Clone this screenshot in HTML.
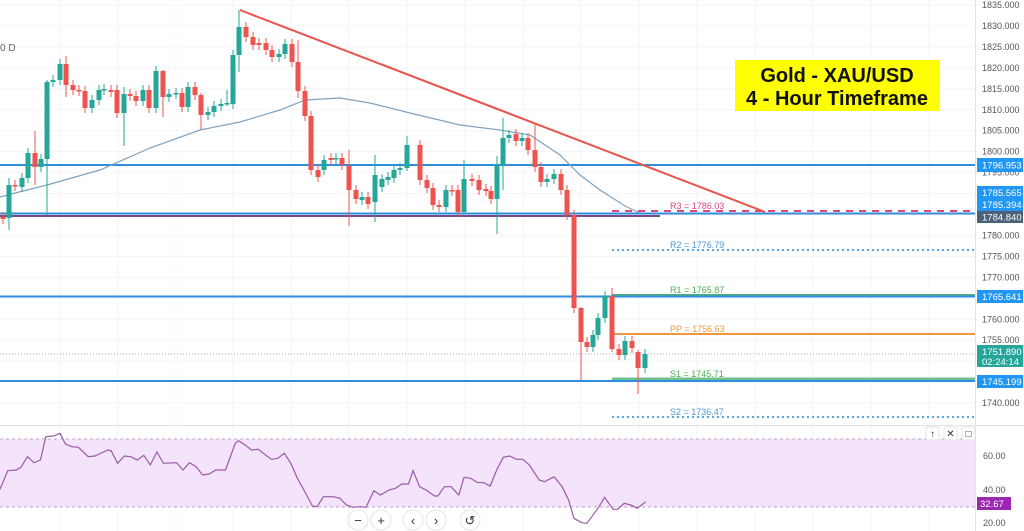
<!DOCTYPE html>
<html><head><meta charset="utf-8">
<style>
body{margin:0;background:#fff;width:1024px;height:531px;overflow:hidden;font-family:"Liberation Sans",sans-serif}
svg{display:block}
</style></head><body>
<svg id="s" width="1024" height="531" xmlns="http://www.w3.org/2000/svg" font-family="Liberation Sans, sans-serif">
<rect width="1024" height="531" fill="#fff"/>
<g id="grid" stroke="#f3f5f8" stroke-width="1"></g>
<rect x="0" y="439" width="975" height="68" fill="#f3e3fb"/>
<line x1="0" y1="439" x2="975" y2="439" stroke="#b9a7bf" stroke-dasharray="3,3"/>
<line x1="0" y1="507" x2="975" y2="507" stroke="#b9a7bf" stroke-dasharray="3,3"/>
<line x1="0" y1="425.5" x2="1024" y2="425.5" stroke="#e0e3eb"/>
<line x1="975.5" y1="0" x2="975.5" y2="531" stroke="#e0e3eb"/>
<g id="lines">
<line x1="0" y1="165" x2="975" y2="165" stroke="#2f8fdc" stroke-width="2"/>
<line x1="0" y1="216" x2="660" y2="216" stroke="#7a4a8c" stroke-width="2"/>
<line x1="0" y1="213.5" x2="975" y2="213.5" stroke="#2f8fdc" stroke-width="2"/>
<line x1="612" y1="211" x2="975" y2="211" stroke="#e0457f" stroke-width="2" stroke-dasharray="7,6"/>
<line x1="612" y1="250" x2="975" y2="250" stroke="#5aa7e0" stroke-width="2" stroke-dasharray="2,3"/>
<line x1="612" y1="295" x2="975" y2="295" stroke="#4caf7a" stroke-width="2"/>
<line x1="0" y1="296.5" x2="975" y2="296.5" stroke="#2f8fdc" stroke-width="2"/>
<line x1="612" y1="334" x2="975" y2="334" stroke="#f0973b" stroke-width="2"/>
<line x1="0" y1="354" x2="975" y2="354" stroke="#9fb3c2" stroke-width="1" stroke-dasharray="1,2"/>
<line x1="612" y1="379" x2="975" y2="379" stroke="#6fbf8f" stroke-width="3"/>
<line x1="0" y1="381" x2="975" y2="381" stroke="#2f8fdc" stroke-width="2"/>
<line x1="612" y1="417" x2="975" y2="417" stroke="#5aa7e0" stroke-width="2" stroke-dasharray="2,3"/>
</g>
<g font-size="9">
<text x="670" y="209" fill="#e0457f">R3 = 1786.03</text>
<text x="670" y="248" fill="#4a9ad8">R2 = 1776.79</text>
<text x="670" y="293" fill="#4caf50">R1 = 1765.87</text>
<text x="670" y="332" fill="#f0973b">PP = 1756.63</text>
<text x="670" y="377" fill="#4caf50">S1 = 1745.71</text>
<text x="670" y="415" fill="#4a9ad8">S2 = 1736.47</text>
</g>
<polyline fill="none" stroke="#7fa3c0" stroke-width="1.2" points="0,197 15,193 47,185 100,170 150,148 200,130 240,122 280,110 305,100 340,98 370,103 410,113 460,125 500,130 530,135 560,155 580,175 600,190 625,206 640,213"/>
<g id="candles"></g>
<line x1="240" y1="10" x2="765" y2="212" stroke="#e8544c" stroke-width="2"/>
<polyline id="rsi" fill="none" stroke="#9c5aa8" stroke-width="1.2" points=""/>
<text x="0" y="51" font-size="10" fill="#666">0 D</text>
<rect x="735" y="60" width="205" height="51" fill="#ffff00"/>
<text x="837" y="82" font-size="20" font-weight="bold" text-anchor="middle" fill="#111">Gold - XAU/USD</text>
<text x="837" y="105" font-size="20" font-weight="bold" text-anchor="middle" fill="#111">4 - Hour Timeframe</text>
<g id="axis" font-size="9" fill="#555"></g>
<g font-size="9.5" fill="#fff">
<rect x="977" y="158" width="46" height="14" fill="#2196f3"/><text x="982" y="168.5">1796.953</text>
<rect x="977" y="186" width="46" height="13" fill="#2196f3"/><text x="982" y="196">1785.565</text>
<rect x="977" y="199" width="46" height="12" fill="#2196f3"/><text x="982" y="208">1785.394</text>
<rect x="977" y="211" width="46" height="12" fill="#4a6178"/><text x="982" y="220.5">1784.840</text>
<rect x="977" y="290" width="46" height="13" fill="#2196f3"/><text x="982" y="300">1765.641</text>
<rect x="977" y="345" width="46" height="22" fill="#26a69a"/><text x="982" y="355">1751.890</text><text x="982" y="365">02:24:14</text>
<rect x="977" y="375" width="46" height="13" fill="#2196f3"/><text x="982" y="385">1745.199</text>
<rect x="977" y="497" width="34" height="13" fill="#9c27b0"/><text x="980" y="507">32.67</text>
</g>
<g font-size="9" fill="#555">
<text x="983" y="459">60.00</text><text x="983" y="493">40.00</text><text x="983" y="526">20.00</text>
</g>
<g fill="#fff" stroke="#e0e3eb">
<rect x="926" y="427" width="13" height="13" rx="2"/><rect x="944" y="427" width="13" height="13" rx="2"/><rect x="962" y="427" width="13" height="13" rx="2"/>
</g>
<g font-size="10" fill="#333" text-anchor="middle"><text x="932.5" y="437">↑</text><text x="950.5" y="437">✕</text><text x="968.5" y="437">□</text></g>
<g fill="#fff" stroke="#e4e4e4">
<circle cx="358" cy="520" r="10"/><circle cx="381" cy="520" r="10"/><circle cx="413" cy="520" r="10"/><circle cx="436" cy="520" r="10"/><circle cx="470" cy="520" r="10"/>
</g>
<g font-size="13" fill="#333" text-anchor="middle"><text x="358" y="525">−</text><text x="381" y="525">+</text><text x="413" y="525">‹</text><text x="436" y="525">›</text><text x="470" y="525">↺</text></g>
</svg>
<script>
var NS="http://www.w3.org/2000/svg";
function el(p,t,a){var e=document.createElementNS(NS,t);for(var k in a)e.setAttribute(k,a[k]);p.appendChild(e);return e;}
var g=document.getElementById('grid');
[60,118,176,233,291,349,407,465,523,581,639,697,755,813,871,929].forEach(function(x){el(g,'line',{x1:x,y1:0,x2:x,y2:531});});
for(var i=0;i<20;i++){var y=5+i*20.95;el(g,'line',{x1:0,y1:y,x2:975,y2:y});}
var ax=document.getElementById('axis');
for(var i=0;i<20;i++){var p=1835-5*i,y=5+i*20.95;if(y>410)break;var t=el(ax,'text',{x:982,y:y+3});t.textContent=p.toFixed(3);}
var C=[[3,217,219],[9,218,185,178,230],[15,185,186],[22,187,178],[28,178,153],[35,153,167,131,185],[41,167,159],[47,159,82,80,215],[53,82,80],[60,80,64],[66,64,85,56,97],[73,85,90],[79,90,91],[85,91,108],[92,108,100],[99,100,90],[104,90,89],[111,90,92],[117,90,113],[124,113,94,87,146],[130,94,96],[136,96,101],[143,101,90],[149,90,108],[156,108,71],[163,71,97,70,117],[169,97,94],[176,94,93],[182,93,107],[188,107,87],[195,87,95],[201,95,115,93,130],[208,115,112],[214,112,106],[221,106,104],[227,104,103,90,106],[233,104,55],[239,55,27,10,72],[246,27,37],[253,37,45],[259,43,45],[266,43,50],[272,50,57],[279,57,54],[285,54,44],[292,44,62],[298,62,91,40,98],[305,91,116],[311,116,170],[318,170,177],[324,170,160],[331,158,160],[336,159,158],[342,158,165],[349,166,190,150,226],[356,190,199],[362,200,197],[368,197,204],[375,202,175,155,222],[382,187,179],[388,180,177],[394,178,170],[400,170,168],[407,168,145,136,171],[420,145,180],[427,180,188],[433,188,205],[439,205,207],[446,207,190],[452,190,191],[458,190,212],[464,212,179,160,214],[472,179,181],[479,180,190],[486,189,191],[491,191,199],[497,199,165,156,234],[503,165,138,118,190],[509,138,135],[516,134,141],[522,141,138],[528,138,150],[535,150,167,124,172],[541,167,182],[547,182,179],[554,179,174],[561,174,190],[567,190,215],[574,215,308],[581,308,342,307,380],[587,342,347],[593,347,335],[598,335,318],[605,318,296],[612,296,349,288,352],[619,349,355],[625,355,341],[632,341,348],[638,352,368,350,394],[645,368,354]];
var cg=document.getElementById('candles');
C.forEach(function(c){var x=c[0],o=c[1],cl=c[2];var up=cl<o;var col=up?'#26a69a':'#ef5350';var top=Math.min(o,cl),bot=Math.max(o,cl);var hi=c[3]!==undefined?c[3]:top-5,lo=c[4]!==undefined?c[4]:bot+5;
el(cg,'line',{x1:x,y1:hi,x2:x,y2:lo,stroke:col,'stroke-width':1});
el(cg,'rect',{x:x-2.5,y:top,width:5,height:Math.max(1.5,bot-top),fill:col});});
var R=[[0,208],[12,152],[25,150],[32,142],[42,110],[52,128],[62,120],[70,50],[82,48],[92,40],[100,72],[110,80],[120,82],[135,110],[145,108],[165,90],[170,92],[180,130],[190,108],[200,110],[210,120],[220,106],[230,135],[240,96],[250,130],[270,128],[280,150],[290,128],[300,140],[310,165],[320,162],[330,150],[345,150],[360,70],[365,62],[375,75],[385,90],[395,88],[415,118],[425,115],[435,100],[445,130],[455,175],[465,210],[478,258],[485,260],[495,230],[510,230],[520,235],[530,255],[540,262],[550,260],[560,262],[572,212],[582,225],[595,210],[605,205],[615,192],[625,192],[632,152],[642,200],[652,210],[665,228],[670,228],[680,200],[690,200],[702,225],[710,172],[720,175],[730,187],[740,188],[750,198],[760,150],[770,112],[780,108],[790,118],[800,118],[810,135],[825,180],[833,185],[848,170],[860,200],[870,240],[878,295],[890,308],[898,310],[915,265],[925,232],[938,268],[945,268],[955,250],[965,255],[975,265],[988,245]];
document.getElementById('rsi').setAttribute('points',R.map(function(p){return (p[0]/1.53).toFixed(1)+','+(420+p[1]/3).toFixed(1);}).join(' '));
</script>
</body></html>
